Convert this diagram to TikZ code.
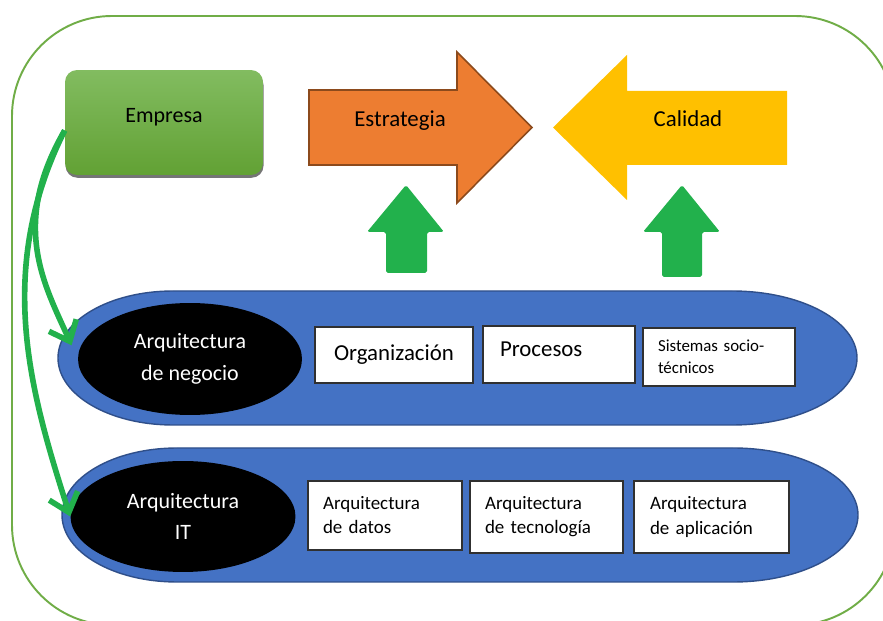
\documentclass[tikz,border=0pt]{standalone}
\usepackage{fontspec}
\setmainfont{Carlito}
\usetikzlibrary{shapes.geometric,arrows.meta,shadows}
\definecolor{framegreen}{HTML}{70AD47}
\definecolor{emptop}{RGB}{130,188,96}
\definecolor{empbottom}{RGB}{98,161,52}
\definecolor{stratorange}{HTML}{ED7D31}
\definecolor{stratedge}{HTML}{8C4A1C}
\definecolor{qualgold}{HTML}{FFC000}
\definecolor{arrowgreen}{RGB}{34,177,76}
\definecolor{bandblue}{HTML}{4472C4}
\definecolor{bandedge}{HTML}{2F4F8A}
\definecolor{boxedge}{HTML}{303030}

\begin{document}
\begin{tikzpicture}[x=0.02cm, y=0.02cm,
  frame/.style={draw=framegreen, line width=1.1pt, rounded corners=2cm},
  band/.style={fill=bandblue, draw=bandedge, line width=0.8pt},
  archell/.style={ellipse, fill=black, text=white, align=center, inner sep=0pt,
    font=\fontsize{12.5}{18}\selectfont},
  bigtext/.style={font=\fontsize{13}{15}\selectfont},
  itembox/.style={draw=boxedge, fill=white, line width=0.8pt, inner ysep=0pt},
  leftbox/.style={itembox, align=left, inner xsep=0.3cm,
    font=\fontsize{10.8}{13.7}\selectfont},
  uparrow/.style={fill=arrowgreen, rounded corners=1pt},
  conn/.style={draw=arrowgreen, line width=3.2pt,
    -{Straight Barb[length=10pt,width=17pt]}}
]
\useasboundingbox (0,0) rectangle (883,-621);
\clip (0,0) rectangle (883,-621);

% Outer frame
\draw [frame] (12,-16) rectangle (895,-625);%

% Marking box Empresa
\node [rounded corners=0.24cm, top color=emptop, bottom color=empbottom,
  drop shadow={shadow xshift=0.3pt, shadow yshift=-1.6pt, fill=black!60, opacity=0.9},
  minimum width=3.96cm, minimum height=2.1cm, text depth=8.5pt,
  font=\fontsize{12.5}{15}\selectfont] (emp) at (164,-122.5) {Empresa};%

% Drawing arrow Estrategia
\draw [fill=stratorange, draw=stratedge, line width=0.9pt]
  (309,-90) -- (457,-90) -- (457,-52) -- (532,-127.5) -- (457,-203)
  -- (457,-165) -- (309,-165) -- cycle;%
\node [bigtext] (strat) at (400,-121) {Estrategia};%

% Drawing arrow Calidad
\fill [qualgold] (787,-91) -- (627,-91) -- (627,-55) -- (553,-127.5)
  -- (627,-200) -- (627,-165) -- (787,-165) -- cycle;%
\node [bigtext] (qual) at (688,-119) {Calidad};%

% Drawing green arrows up
\fill [uparrow] (386,-273) -- (386,-232) -- (367,-232) -- (406,-185)
  -- (444,-232) -- (427,-232) -- (427,-273) -- cycle;%
\fill [uparrow] (662,-277) -- (662,-232) -- (643,-232) -- (682,-185)
  -- (720,-232) -- (702,-232) -- (702,-277) -- cycle;%

% Drawing band of business architecture
\draw [band] (173,-291) -- (732,-291)
  arc [start angle=90, end angle=-90, x radius=125, y radius=67]
  -- (173,-425)
  arc [start angle=270, end angle=90, x radius=115, y radius=67] -- cycle;%
\node [archell, minimum width=4.48cm, minimum height=2.24cm] (bus) at (190,-359)
  {Arquitectura\\de negocio};%
\node [itembox, bigtext, minimum width=3.16cm, minimum height=1.12cm] (org)
  at (394,-355) {Organización};%
\node [itembox, bigtext, align=left, inner xsep=0.34cm, text width=2.36cm,
  minimum height=1.14cm, text depth=6pt] (proc) at (559,-354.5) {Procesos};%
\node [itembox, align=left, inner xsep=0.3cm, text width=2.44cm,
  minimum height=1.16cm, font=\fontsize{9.6}{12.5}\selectfont] (soc)
  at (719,-357) {Sistemas socio-\\técnicos};%

% Drawing band of IT architecture
\draw [band] (177,-448) -- (733,-448)
  arc [start angle=90, end angle=-90, x radius=125, y radius=67]
  -- (177,-582)
  arc [start angle=270, end angle=90, x radius=115, y radius=67] -- cycle;%
\node [archell, minimum width=4.5cm, minimum height=2.22cm] (it) at (183,-516.5)
  {Arquitectura\\IT};%
\node [leftbox, text width=2.48cm, minimum height=1.38cm] (dat)
  at (385,-515.5) {Arquitectura\\de datos};%
\node [leftbox, text width=2.46cm, minimum height=1.44cm] (tec)
  at (546.5,-517) {Arquitectura\\de tecnología};%
\node [leftbox, inner xsep=0.32cm, text width=2.46cm, minimum height=1.44cm] (app)
  at (711.5,-517) {Arquitectura\\de aplicación};%

% Drawing connectors from Empresa
\draw [conn, shorten >=0.3cm] ([yshift=-0.16cm]emp.west)
  .. controls +(-55,-95) and +(-33,74) .. (bus.west);%
\draw [conn] ([yshift=-0.16cm]emp.west)
  .. controls +(-70,-140) and +(-40,125) .. (it.west);%
\end{tikzpicture}
\end{document}
